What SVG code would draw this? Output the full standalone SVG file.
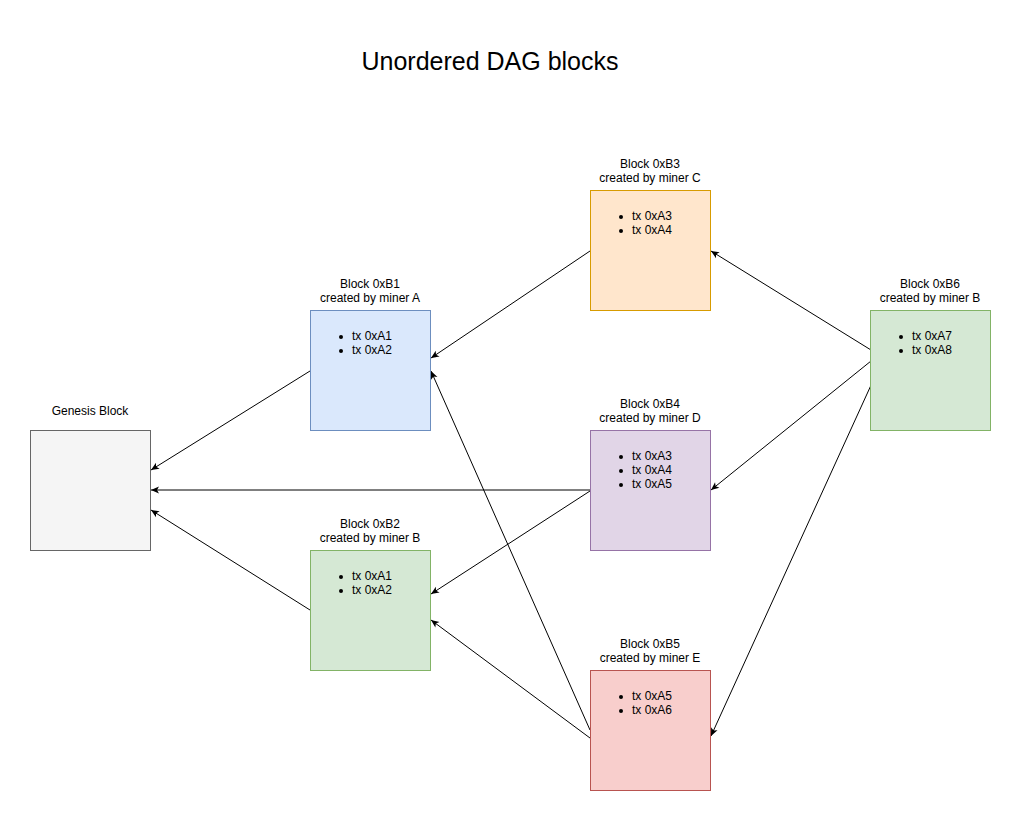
<svg xmlns="http://www.w3.org/2000/svg" width="1021" height="821" viewBox="0 0 1021 821">
<style>
text{font-family:"Liberation Sans",Arial,sans-serif;fill:#000}
.lbl{font-size:12px;text-anchor:middle}
.li{font-size:12px}
.title{font-size:25px;text-anchor:middle}
.edge{stroke:#000;stroke-width:1;fill:none;marker-end:url(#arr)}
</style>
<defs>
<marker id="arr" markerUnits="userSpaceOnUse" markerWidth="10" markerHeight="10" viewBox="0 0 10 10" refX="9" refY="5" orient="auto">
<path d="M1,1.5 L9,5 L1,8.5 L3,5 Z" fill="#000"/>
</marker>
</defs>
<rect width="1021" height="821" fill="#fff"/>
<text class="title" x="490" y="70">Unordered DAG blocks</text>
<g id="connectors">
<line class="edge" x1="590" y1="251" x2="431" y2="358"/>
<line class="edge" x1="310" y1="371" x2="151" y2="470"/>
<line class="edge" x1="590" y1="490" x2="151" y2="490"/>
<line class="edge" x1="310" y1="610" x2="151" y2="510"/>
<line class="edge" x1="590" y1="491" x2="431" y2="594"/>
<line class="edge" x1="590" y1="738" x2="431" y2="620"/>
<line class="edge" x1="590" y1="730" x2="431" y2="371"/>
<line class="edge" x1="871" y1="350" x2="711" y2="251"/>
<line class="edge" x1="871" y1="361" x2="711" y2="490"/>
<line class="edge" x1="872" y1="383" x2="711" y2="736"/>
</g>
<g id="genesis">
<rect x="30.5" y="430.5" width="120" height="120" fill="#f5f5f5" stroke="#666666"/>
<text class="lbl" x="90" y="415">Genesis Block</text>
</g>
<g id="b1">
<rect x="310.5" y="310.5" width="120" height="120" fill="#dae8fc" stroke="#6c8ebf"/>
<text class="lbl" x="370" y="288">Block 0xB1</text>
<text class="lbl" x="370" y="302">created by miner A</text>
<circle cx="341" cy="337" r="2"/><text class="li" x="352" y="340">tx 0xA1</text>
<circle cx="341" cy="351" r="2"/><text class="li" x="352" y="354">tx 0xA2</text>
</g>
<g id="b2">
<rect x="310.5" y="550.5" width="120" height="120" fill="#d5e8d4" stroke="#82b366"/>
<text class="lbl" x="370" y="528">Block 0xB2</text>
<text class="lbl" x="370" y="542">created by miner B</text>
<circle cx="341" cy="577" r="2"/><text class="li" x="352" y="580">tx 0xA1</text>
<circle cx="341" cy="591" r="2"/><text class="li" x="352" y="594">tx 0xA2</text>
</g>
<g id="b3">
<rect x="590.5" y="190.5" width="120" height="120" fill="#ffe6cc" stroke="#d79b00"/>
<text class="lbl" x="650" y="168">Block 0xB3</text>
<text class="lbl" x="650" y="182">created by miner C</text>
<circle cx="621" cy="217" r="2"/><text class="li" x="632" y="220">tx 0xA3</text>
<circle cx="621" cy="231" r="2"/><text class="li" x="632" y="234">tx 0xA4</text>
</g>
<g id="b4">
<rect x="590.5" y="430.5" width="120" height="120" fill="#e1d5e7" stroke="#9673a6"/>
<text class="lbl" x="650" y="408">Block 0xB4</text>
<text class="lbl" x="650" y="422">created by miner D</text>
<circle cx="621" cy="457" r="2"/><text class="li" x="632" y="460">tx 0xA3</text>
<circle cx="621" cy="471" r="2"/><text class="li" x="632" y="474">tx 0xA4</text>
<circle cx="621" cy="485" r="2"/><text class="li" x="632" y="488">tx 0xA5</text>
</g>
<g id="b5">
<rect x="590.5" y="670.5" width="120" height="120" fill="#f8cecc" stroke="#b85450"/>
<text class="lbl" x="650" y="648">Block 0xB5</text>
<text class="lbl" x="650" y="662">created by miner E</text>
<circle cx="621" cy="697" r="2"/><text class="li" x="632" y="700">tx 0xA5</text>
<circle cx="621" cy="711" r="2"/><text class="li" x="632" y="714">tx 0xA6</text>
</g>
<g id="b6">
<rect x="870.5" y="310.5" width="120" height="120" fill="#d5e8d4" stroke="#82b366"/>
<text class="lbl" x="930" y="288">Block 0xB6</text>
<text class="lbl" x="930" y="302">created by miner B</text>
<circle cx="901" cy="337" r="2"/><text class="li" x="912" y="340">tx 0xA7</text>
<circle cx="901" cy="351" r="2"/><text class="li" x="912" y="354">tx 0xA8</text>
</g>
</svg>
